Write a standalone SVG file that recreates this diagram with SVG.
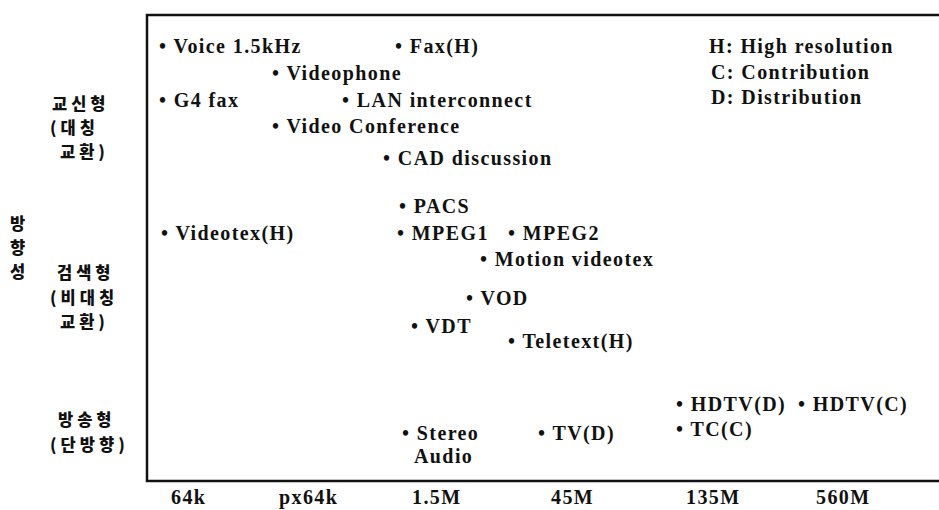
<svg xmlns="http://www.w3.org/2000/svg" width="939" height="510" viewBox="0 0 939 510">
<style>
.t{font-family:"Liberation Serif","Times New Roman",serif;font-weight:bold;font-size:20px;letter-spacing:1.4px;fill:#111}
.k{font-family:"Noto Sans CJK KR","Noto Sans",sans-serif;font-weight:900;font-size:16.5px;letter-spacing:4px;fill:#111}
.ax{fill:none;stroke:#111;stroke-width:2.5}
</style>
<rect width="939" height="510" fill="#fff"/>
<g id="frame">
<path class="ax" d="M939,15 H147 V481 H939"/>
</g>
<g id="ylabels">
<text id="y-exchange" class="k" x="52" y="110">교신형<tspan x="50" y="134">(대칭</tspan><tspan x="60" y="158">교환)</tspan></text>
<text id="y-axis-title" class="k" x="10" y="230">방<tspan x="10" y="254">향</tspan><tspan x="10" y="278">성</tspan></text>
<text id="y-retrieval" class="k" x="57" y="279">검색형<tspan x="50" y="304">(비대칭</tspan><tspan x="60" y="328">교환)</tspan></text>
<text id="y-broadcast" class="k" x="58" y="426">방송형<tspan x="50" y="451">(단방향)</tspan></text>
</g>
<g id="xlabels">
<text class="t" x="171" y="504">64k</text>
<text class="t" x="279" y="504">px64k</text>
<text class="t" x="412" y="504">1.5M</text>
<text class="t" x="551" y="504">45M</text>
<text class="t" x="686" y="504">135M</text>
<text class="t" x="816" y="504">560M</text>
</g>
<g id="legend">
<text class="t" x="709" y="53">H: High resolution</text>
<text class="t" x="711" y="79">C: Contribution</text>
<text class="t" x="711" y="104">D: Distribution</text>
</g>
<g id="items">
<text id="voice" class="t" x="159" y="53">• Voice 1.5kHz</text>
<text id="fax" class="t" x="395" y="53">• Fax(H)</text>
<text id="videophone" class="t" x="272" y="80">• Videophone</text>
<text id="g4fax" class="t" x="159" y="107">• G4 fax</text>
<text id="lan" class="t" x="342" y="107">• LAN interconnect</text>
<text id="vconf" class="t" x="272" y="133">• Video Conference</text>
<text id="cad" class="t" x="383" y="165">• CAD discussion</text>
<text id="pacs" class="t" x="399" y="213">• PACS</text>
<text id="videotex" class="t" x="161" y="240">• Videotex(H)</text>
<text id="mpeg1" class="t" x="397" y="240">• MPEG1</text>
<text id="mpeg2" class="t" x="508" y="240">• MPEG2</text>
<text id="motion" class="t" x="480" y="266">• Motion videotex</text>
<text id="vod" class="t" x="466" y="305">• VOD</text>
<text id="vdt" class="t" x="411" y="333">• VDT</text>
<text id="teletext" class="t" x="508" y="348">• Teletext(H)</text>
<text id="hdtvd" class="t" x="676" y="411">• HDTV(D)</text>
<text id="hdtvc" class="t" x="798" y="411">• HDTV(C)</text>
<text id="stereo" class="t" x="402" y="440">• Stereo<tspan x="414" y="463">Audio</tspan></text>
<text id="tvd" class="t" x="538" y="440">• TV(D)</text>
<text id="tcc" class="t" x="676" y="436">• TC(C)</text>
</g>
<g id="connectors"/>
</svg>
